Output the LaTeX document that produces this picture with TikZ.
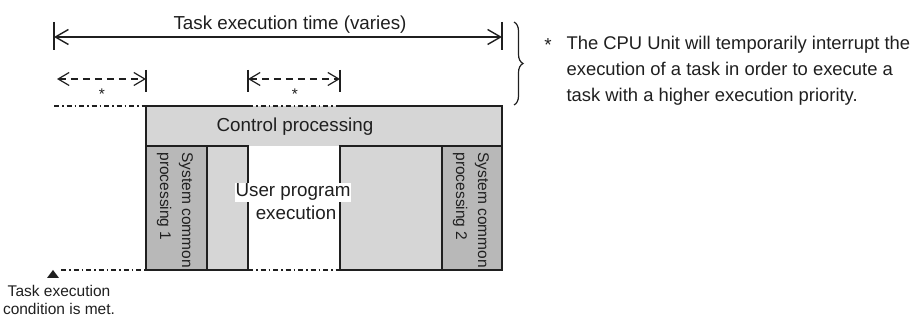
\documentclass[tikz,border=0pt]{standalone}
\usepackage{fontspec}
\setmainfont{Liberation Sans}
\usetikzlibrary{arrows.meta, decorations.pathreplacing, positioning}

\definecolor{lightbox}{gray}{0.84}
\definecolor{darkbox}{gray}{0.72}
\definecolor{ink}{gray}{0.12}

\begin{document}
\begin{tikzpicture}[x=1pt, y=-1pt, line width=1.2pt, draw=ink, text=ink,
	bigtip/.style={{Straight Barb[length=13pt, width=15pt]}-{Straight Barb[length=13pt, width=15pt]}},
	smalltip/.style={{Straight Barb[length=11pt, width=13pt]}-{Straight Barb[length=11pt, width=13pt]}},
	dashdot/.style={dash pattern=on 5pt off 3pt on 1.5pt off 3pt},
	txt/.style={font=\fontsize{18.8}{23}\selectfont, inner sep=0pt},
	small/.style={font=\fontsize{15.5}{18}\selectfont, inner sep=0pt},
	rot/.style={font=\fontsize{15.5}{22}\selectfont, inner sep=0pt, rotate=-90, align=left, anchor=west}]
	
	\useasboundingbox (0,0) rectangle (916,320);
	
	% -------------------------------------------------------------------------
	% 1. Parameters (time marks along x)
	% -------------------------------------------------------------------------
	\def\tS{54}    % task start
	\def\tA{146}   % first interruption ends
	\def\tB{207}   % system common processing 1 ends
	\def\tC{248}   % second interruption begins
	\def\tD{340}   % second interruption ends
	\def\tE{442}   % system common processing 2 begins
	\def\tF{502}   % task ends
	\def\yTop{106} % control processing top
	\def\yMid{146} % control processing bottom
	\def\yBot{270} % user program bottom
	
	% -------------------------------------------------------------------------
	% 2. Task execution time
	% -------------------------------------------------------------------------
	\coordinate (TaskL) at (\tS, 37);
	\coordinate (TaskR) at (\tF, 37);
	\draw (\tS, 22) -- (\tS, 50);
	\draw (\tF, 22) -- (\tF, 50);
	\draw[bigtip, line width=1.4pt] (TaskL) -- (TaskR);
	\node[txt, anchor=base] (time) at (290, 30) {Task execution time (varies)};
	
	% -------------------------------------------------------------------------
	% 3. Interruptions (*)
	% -------------------------------------------------------------------------
	\coordinate (IntAL) at (57, 79);
	\coordinate (IntAR) at (\tA, 79);
	\coordinate (IntBL) at (\tC, 79);
	\coordinate (IntBR) at (\tD, 79);
	\draw (\tA, 70) -- (\tA, 92);
	\draw (\tC, 70) -- (\tC, 92);
	\draw (\tD, 70) -- (\tD, 92);
	\draw[smalltip, dash pattern=on 7pt off 5pt] (IntAL) -- (IntAR);
	\draw[smalltip, dash pattern=on 7pt off 5pt] (IntBL) -- (IntBR);
	\node[small, anchor=base] (starA) at (102, 100) {*};
	\node[small, anchor=base] (starB) at (295, 100) {*};
	
	% -------------------------------------------------------------------------
	% 4. Control processing
	% -------------------------------------------------------------------------
	\fill[lightbox] (\tA, \yTop) rectangle (\tF, \yMid);
	\draw (\tC, \yTop) -- (\tA, \yTop) -- (\tA, \yMid);
	\draw (\tF, \yMid) -- (\tF, \yTop) -- (\tD, \yTop);
	\node[txt, anchor=base] (ctrl) at (295, 132) {Control processing};
	
	% -------------------------------------------------------------------------
	% 5. System common processing and user program
	% -------------------------------------------------------------------------
	\filldraw[fill=darkbox] (\tA, \yMid) rectangle (\tB, \yBot);
	\filldraw[fill=lightbox] (\tB, \yMid) rectangle (\tC, \yBot);
	\filldraw[fill=lightbox] (\tD, \yMid) rectangle (\tE, \yBot);
	\filldraw[fill=darkbox] (\tE, \yMid) rectangle (\tF, \yBot);
	\node[rot] (sysA) at (175, 152) {System common\\processing 1};
	\node[rot] (sysB) at (471, 152) {System common\\processing 2};
	\node[txt, anchor=base, fill=white, inner sep=1pt] (user) at (293, 197) {User program};
	\node[txt, anchor=base, fill=white, inner sep=1pt] (exec) at (296, 220) {execution};
	
	% -------------------------------------------------------------------------
	% 6. Interrupted periods (dash-dot)
	% -------------------------------------------------------------------------
	\draw[dashdot] (\tS, \yTop) -- (\tA, \yTop);
	\draw[dashdot] (\tC, \yTop) -- (\tD, \yTop);
	\draw[dashdot] (61, \yBot) -- (\tA, \yBot);
	\draw[dashdot] (\tC, \yBot) -- (\tD, \yBot);
	
	% -------------------------------------------------------------------------
	% 7. Task execution condition
	% -------------------------------------------------------------------------
	\coordinate (Cond) at (53, 270);
	\fill[ink] (Cond) -- ++(6, 8) -- ++(-12, 0) -- cycle;
	\node[small, align=center, anchor=base] (cond) at (59, 315) {Task execution\\condition is met.};
	
	% -------------------------------------------------------------------------
	% 8. Footnote
	% -------------------------------------------------------------------------
	\draw[decorate, decoration={brace, amplitude=9pt}] (514, 22) -- (514, 105);
	\node[txt, anchor=base] (note) at (548, 52) {*};
	\node[anchor=base west, align=left, inner sep=0pt, font=\fontsize{18.4}{26}\selectfont] (text) at (566, 102)
	{The CPU Unit will temporarily interrupt the\\execution of a task in order to execute a\\task with a higher execution priority.};
	
\end{tikzpicture}
\end{document}
